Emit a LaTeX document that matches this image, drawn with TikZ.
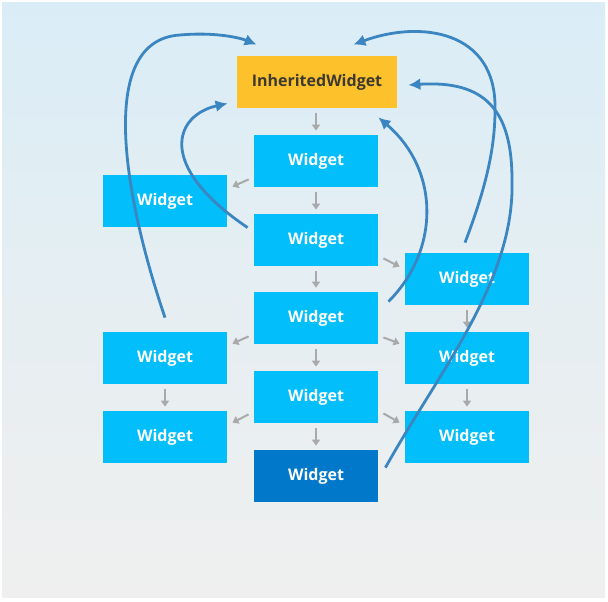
\documentclass[tikz,border=0pt]{standalone}
\usepackage{fontspec}
\setmainfont{Open Sans}
\usetikzlibrary{arrows.meta,calc}
\definecolor{bgtop}{HTML}{DAEDF6}
\definecolor{bgbot}{HTML}{EFEFEF}
\definecolor{wblue}{HTML}{02BEFA}
\definecolor{wdark}{HTML}{0278CA}
\definecolor{wyellow}{HTML}{FDC12B}
\definecolor{ctext}{HTML}{3B3930}
\definecolor{cblue}{HTML}{3B86C1}
\definecolor{cgray}{HTML}{A9A9A9}
\tikzset{
  wbox/.style={rectangle, fill=wblue, minimum width=62pt, minimum height=26pt, inner sep=0pt, text=white, font=\fontsize{8}{9}\selectfont\bfseries},
  darkbox/.style={wbox, fill=wdark},
  ibox/.style={rectangle, fill=wyellow, minimum width=80pt, minimum height=26pt, inner sep=0pt, text=ctext, font=\fontsize{8}{9}\selectfont\bfseries},
  garrow/.style={draw=cgray, line width=1pt, -{Triangle[length=3pt,width=4pt]}},
  barrow/.style={draw=cblue, line width=1.4pt, -{Latex[length=6pt,width=6pt]}}
}
\begin{document}
\begin{tikzpicture}[x=0.5pt,y=-0.5pt]
\useasboundingbox (0,0) rectangle (608,601);
\shade[top color=bgtop, bottom color=bgbot, middle color=bgtop!45!bgbot] (2,2) rectangle (605,597);

\node[ibox] (iw) at (317,82) {InheritedWidget};
\node[wbox] (c1) at (316,161) {Widget};
\node[wbox] (c2) at (316,240) {Widget};
\node[wbox] (c3) at (316,318) {Widget};
\node[wbox] (c4) at (316,397) {Widget};
\node[darkbox] (c5) at (316,476) {Widget};
\node[wbox] (l1) at (165,201) {Widget};
\node[wbox] (l2) at (165,358) {Widget};
\node[wbox] (l3) at (165,437) {Widget};
\node[wbox] (r1) at (467,279) {Widget};
\node[wbox] (r2) at (467,358) {Widget};
\node[wbox] (r3) at (467,437) {Widget};

% gray tree arrows
\draw[garrow] ([yshift=-2.5pt]iw.south -| c1) -- ([yshift=2pt]c1.north);
\draw[garrow] ([yshift=-2.5pt]c1.south) -- ([yshift=2pt]c2.north);
\draw[garrow] ([yshift=-2.5pt]c2.south) -- ([yshift=2pt]c3.north);
\draw[garrow] ([yshift=-2.5pt]c3.south) -- ([yshift=2pt]c4.north);
\draw[garrow] ([yshift=-2.5pt]c4.south) -- ([yshift=2pt]c5.north);
\draw[garrow] ([yshift=-2.5pt]l2.south) -- ([yshift=2pt]l3.north);
\draw[garrow] ([yshift=-2.5pt]r1.south) -- ([yshift=2pt]r2.north);
\draw[garrow] ([yshift=-2.5pt]r2.south) -- ([yshift=2pt]r3.north);
\draw[garrow] ($(c1.south west)+(-5,-8)$) -- ($(l1.north east)+(5,12)$);
\draw[garrow] ($(c3.south west)+(-5,-8)$) -- ($(l2.north east)+(5,12)$);
\draw[garrow] ($(c4.south west)+(-5,-9)$) -- ($(l3.north east)+(5,12)$);
\draw[garrow] ($(c2.south east)+(5,-8)$) -- ($(r1.north west)+(-5,14)$);
\draw[garrow] ($(c3.south east)+(5,-7)$) -- ($(r2.north west)+(-5,12)$);
\draw[garrow] ($(c4.south east)+(5,-10)$) -- ($(r3.north west)+(-5,12)$);

% blue inheritance curves
\coordinate (s1) at ($(l2.north)+(0,-14)$);
\coordinate (t1) at ($(iw.north west)+(20,-11)$);
\draw[barrow] (s1) .. controls (125,200) and (95,40) .. (180,35) .. controls (212,32) and (238,37) .. (t1);

\coordinate (s2) at ($(c2.north west)+(-6,14)$);
\coordinate (t2) at ($(iw.south west)+(-9,-5)$);
\draw[barrow] (s2) .. controls (155,165) and (175,115) .. (t2);

\coordinate (s3) at ($(c3.north east)+(10,10)$);
\coordinate (t3) at ($(iw.south east)+(-19,9)$);
\draw[barrow] (s3) .. controls (440,250) and (440,170) .. (t3);

\coordinate (s4) at ($(r1.north)+(-2,-10)$);
\coordinate (t4) at ($(iw.north east)+(-44,-11)$);
\draw[barrow] (s4) .. controls (485,190) and (495,150) .. (495,110) .. controls (497,30) and (420,20) .. (t4);

\coordinate (s5) at ($(c5.north east)+(7,18)$);
\coordinate (t5) at ($(iw.east)+(11,3)$);
\draw[barrow] (s5) .. controls (440,370) and (515,280) .. (512,180) .. controls (512,110) and (485,80) .. (t5);
\end{tikzpicture}
\end{document}
